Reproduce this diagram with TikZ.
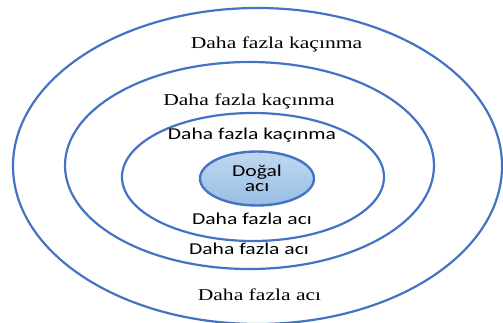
\documentclass[tikz,border=0pt]{standalone}
\usepackage{fontspec}
\usepackage{graphicx}
\setmainfont{Liberation Serif}
\newfontfamily\timesfont{Liberation Serif}
\newfontfamily\calibri{Carlito}
\usetikzlibrary{shapes.geometric}
\definecolor{ringblue}{RGB}{68,114,196}
\definecolor{coretop}{RGB}{192,216,240}
\definecolor{corebot}{RGB}{152,190,228}
\newcommand{\widen}[1]{\scalebox{1.3}[1]{#1}}

\begin{document}
\begin{tikzpicture}[x=1pt, y=-1pt,
    ring/.style={draw=ringblue, line width=2.2pt},
    serif/.style={anchor=base, inner sep=0pt, font=\timesfont\fontsize{16.6}{20}\selectfont},
    sans/.style={anchor=base, inner sep=0pt, font=\calibri\fontsize{16.6}{20}\selectfont}]

    \useasboundingbox (0,0) rectangle (503,322);
    \clip (0,0) rectangle (503,322);

    % rings
    \draw[ring] (257.5,166) ellipse [x radius=244.5, y radius=158];
    \draw[ring] (249.5,165.5) ellipse [x radius=184.5, y radius=103.5];
    \draw[ring] (253,177) ellipse [x radius=131, y radius=64];

    \node [ellipse, draw=ringblue, line width=2.4pt, top color=coretop, bottom color=corebot,
           minimum width=114, minimum height=54, inner sep=0pt, align=center,
           font=\calibri\fontsize{16.6}{15}\selectfont] (core) at (257,178.5)
          {\widen{Doğal}\\\widen{acı}};

    % labels
    \node [serif] (kac1) at (276.5,48.3) {\widen{Daha fazla kaçınma}};
    \node [serif] (kac2) at (249,105.3) {\widen{Daha fazla kaçınma}};
    \node [sans]  (kac3) at (252,139) {\widen{Daha fazla kaçınma}};
    \node [sans]  (aci1) at (252,224) {\widen{Daha fazla acı}};
    \node [sans]  (aci2) at (249,254.3) {\widen{Daha fazla acı}};
    \node [serif] (aci3) at (259.5,300) {\widen{Daha fazla acı}};

\end{tikzpicture}
\end{document}
